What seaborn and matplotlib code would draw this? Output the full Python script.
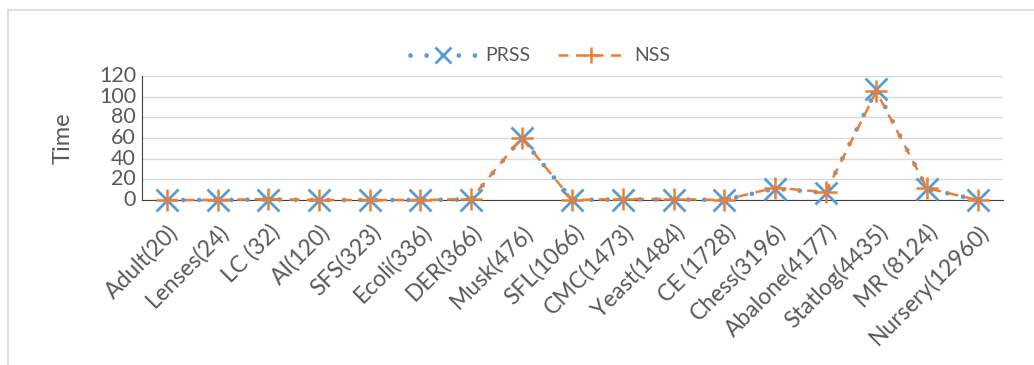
import numpy as np
import pandas as pd
import matplotlib
matplotlib.use("Agg")
import matplotlib.pyplot as plt
import seaborn as sns
from matplotlib.patches import Rectangle

datasets = ["Adult(20)", "Lenses(24)", "LC (32)", "AI(120)", "SFS(323)", "Ecoli(336)",
            "DER(366)", "Musk(476)", "SFL(1066)", "CMC(1473)", "Yeast(1484)", "CE (1728)",
            "Chess(3196)", "Abalone(4177)", "Statlog(4435)", "MR (8124)", "Nursery(12960)"]
prss = [0, 0, 0.5, 0, 0, 0, 0.5, 60, 0, 0.5, 0.5, 0, 11, 7, 107, 11, 0]
nss = [0, 0, 1, 0, 0, 0, 1, 60, 0, 1, 1, 0, 12, 7.5, 105, 11.5, 0]

df = pd.DataFrame({"pos": np.arange(len(datasets)), "PRSS": prss, "NSS": nss})

sns.set_style("white")
plt.rcParams['font.family'] = ['Lato', 'DejaVu Sans']

fig = plt.figure(figsize=(10.34, 3.65), dpi=100)
ax = fig.add_axes([0.137, 0.452, 0.833, 0.34])

blue = "#5B9BD5"
orange = "#ED7D31"
sns.lineplot(data=df, x="pos", y="PRSS", ax=ax, color=blue, linewidth=3.4,
             linestyle=(0, (0.01, 3.4)), dash_capstyle="round",
             marker="x", markersize=16, markeredgewidth=2, markeredgecolor=blue,
             label="PRSS", clip_on=False, zorder=3)
sns.lineplot(data=df, x="pos", y="NSS", ax=ax, color=orange, linewidth=1.8,
             linestyle=(0, (4, 3)), marker="+", markersize=16,
             markeredgewidth=1.8, markeredgecolor=orange,
             label="NSS", clip_on=False, zorder=4)

ax.set_xlim(-0.5, len(datasets) - 0.5)
ax.set_ylim(0, 120)
ax.set_yticks(range(0, 121, 20))
ax.set_xticks(df["pos"])
ax.set_xticks(np.arange(-0.5, len(datasets), 1), minor=True)
ax.set_xticklabels(datasets, rotation=45, ha="right", rotation_mode="anchor",
                   fontsize=16.5, color="#595959")
ax.tick_params(axis="x", which="major", length=0, pad=15)
ax.tick_params(axis="x", which="minor", direction="in", length=6, width=1, color="#404040")
ax.tick_params(axis="y", direction="in", length=6, width=1, color="#404040",
               labelsize=15.5, labelcolor="#595959", pad=4)
for lab in ax.get_yticklabels():
    lab.set_va("center")

ax.grid(axis="y", color="#D9D9D9", linewidth=1)
ax.set_axisbelow(True)
sns.despine(ax=ax, top=True, right=True)
ax.spines["left"].set_color("#404040")
ax.spines["bottom"].set_color("#404040")
ax.set_xlabel("")
ax.set_ylabel("Time", fontsize=17, color="#595959", labelpad=18)

leg = ax.legend(loc="center", bbox_to_anchor=(0.522, 0.847), bbox_transform=fig.transFigure,
                ncol=2, frameon=False, fontsize=14, handlelength=3.4, markerscale=0.7,
                columnspacing=1.4, handletextpad=0.5)
for t in leg.get_texts():
    t.set_color("#595959")

fig.patches.append(Rectangle((0.008, -0.05), 1.2, 1.022, transform=fig.transFigure,
                             fill=False, edgecolor="#D9D9D9", linewidth=1.2))

fig.savefig("out.png", dpi=100)
